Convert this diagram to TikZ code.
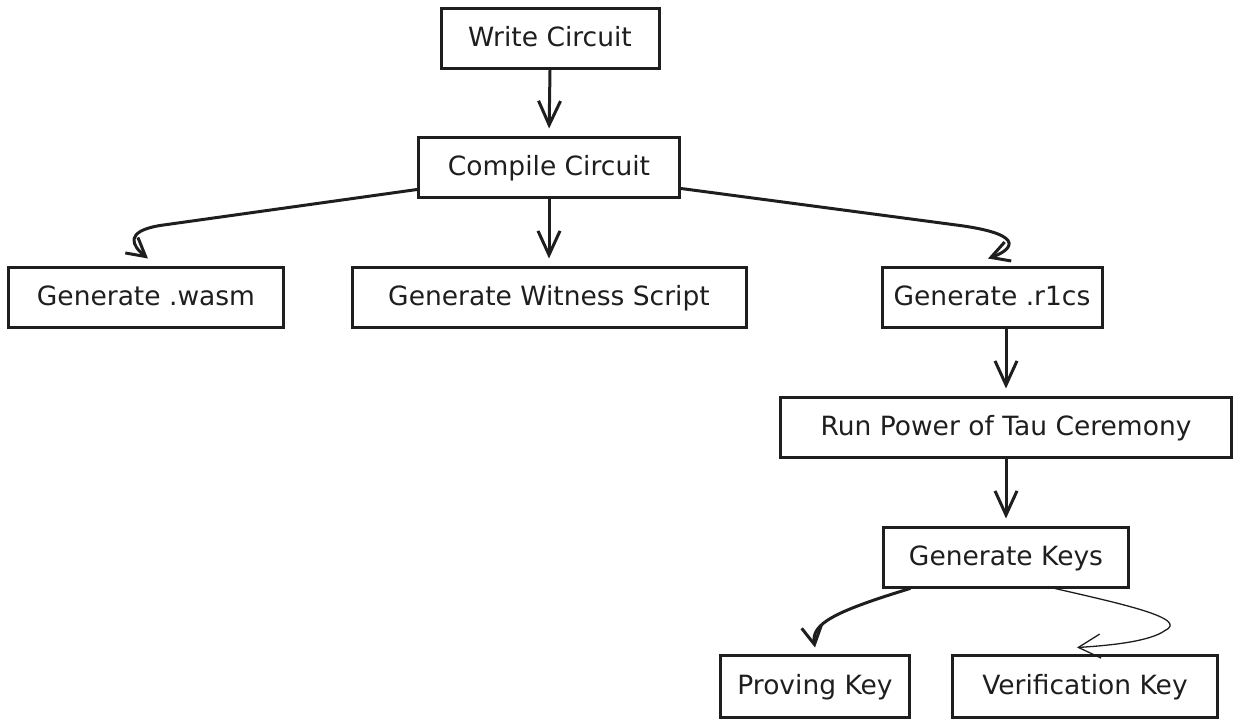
\documentclass[tikz,border=0pt]{standalone}
\usepackage{fontspec}
\setmainfont{DejaVu Sans}
\usetikzlibrary{arrows.meta,calc}
\definecolor{ink}{HTML}{1E1E1E}
\begin{document}
\begin{tikzpicture}[x=1pt,y=-1pt,
  box/.style={draw=ink,line width=3pt,minimum height=60pt,inner sep=0pt,
    font=\fontsize{26.5}{30}\selectfont,text=ink,text height=20pt,text depth=4pt},
  conn/.style={draw=ink,line width=3pt,line cap=round,line join=round,
    -{Straight Barb[length=24pt,width=22pt]}},
  hookconn/.style={draw=ink,line width=3pt,line cap=round,line join=round,
    -{Straight Barb[length=18pt,width=20pt]}},
  thinconn/.style={draw=ink,line width=1.3pt,line cap=round,
    -{Straight Barb[length=22pt,width=24pt]}},
]
\useasboundingbox (0,0) rectangle (1240,725);
\node[box,minimum width=218pt] (write) at (550,39) {Write Circuit};
\node[box,minimum width=261pt] (compile) at (549,167) {Compile Circuit};
\node[box,minimum width=275pt] (wasm) at (146,297) {Generate .wasm};
\node[box,minimum width=394pt] (witness) at (549,297) {Generate Witness Script};
\node[box,minimum width=220pt] (r1cs) at (992,297) {Generate .r1cs};
\node[box,minimum width=451pt] (tau) at (1006,427) {Run Power of Tau Ceremony};
\node[box,minimum width=245pt] (keys) at (1006,557) {Generate Keys};
\node[box,minimum width=189pt,minimum height=62pt] (proving) at (815,686) {Proving Key};
\node[box,minimum width=265pt,minimum height=62pt] (verif) at (1085,686) {Verification Key};

\draw[conn,shorten >=7pt] (write.south) -- (compile.north);
\draw[conn,shorten >=7pt] (compile.south) -- (witness.north);
\draw[conn,shorten >=7pt] (tau.north |- r1cs.south) -- (tau.north);
\draw[conn,shorten >=7pt] (tau.south) -- (keys.north);

\draw[hookconn] ($(compile.south west)+(0,-9)$) -- ($(wasm.north)+(14,-40)$)
  .. controls ($(wasm.north)+(-22,-34)$) and ($(wasm.north)+(-14,-20)$) .. ($(wasm.north)+(2,-7)$);
\draw[hookconn] ($(compile.south east)+(0,-10)$) -- ($(r1cs.north)+(-32,-40)$)
  .. controls ($(r1cs.north)+(40,-30)$) and ($(r1cs.north)+(16,-14)$) .. ($(r1cs.north)+(-4,-7)$);
\draw[hookconn] ($(keys.south west)+(28,0)$)
  .. controls ($(proving.north)+(20,-42)$) and ($(proving.north)+(-4,-30)$) .. ($(proving.north)+(0,-6)$);
\coordinate (vturn) at ($(verif.north)+(80,-23)$);
\draw[thinconn] ($(keys.south west)+(173,0)$)
  .. controls ($(verif.north)+(35,-50)$) and ($(verif.north)+(105,-35)$) .. (vturn)
  .. controls ($(verif.north)+(65,-12)$) and ($(verif.north)+(25,-8)$) .. ($(verif.north)+(-8,-6)$);
\end{tikzpicture}
\end{document}
